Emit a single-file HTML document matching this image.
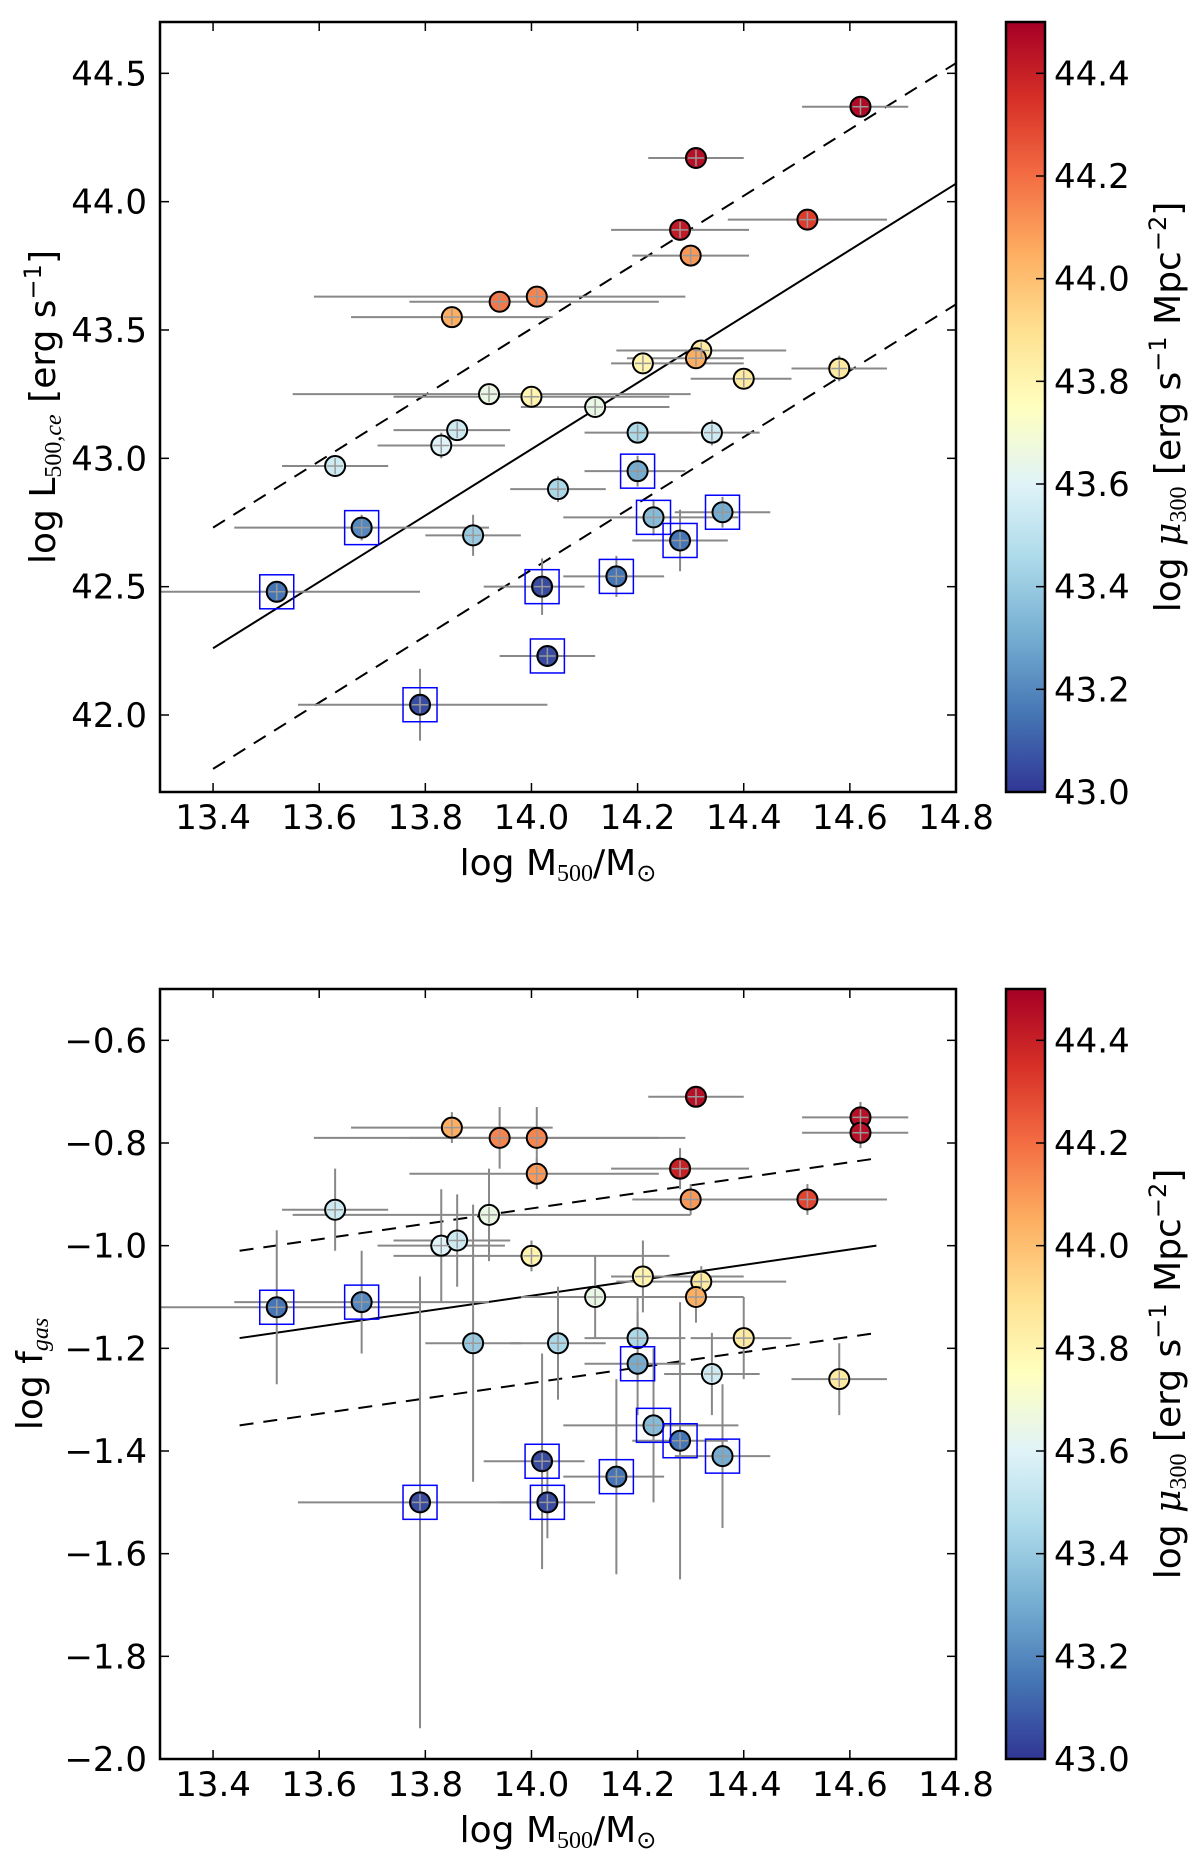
<!DOCTYPE html>
<html><head><meta charset="utf-8">
<style>
html,body{margin:0;padding:0;background:#fff;}
svg{display:block;font-family:"DejaVu Sans","Liberation Sans",sans-serif;}
</style></head>
<body>
<svg id="fig" width="1200" height="1856" viewBox="0 0 1200 1856" xmlns="http://www.w3.org/2000/svg">
<defs>
<linearGradient id="cmap" x1="0" y1="1" x2="0" y2="0">
<stop offset="0" stop-color="#313695"/><stop offset="0.1" stop-color="#4575b4"/><stop offset="0.2" stop-color="#74add1"/><stop offset="0.3" stop-color="#abd9e9"/><stop offset="0.4" stop-color="#e0f3f8"/><stop offset="0.5" stop-color="#ffffbf"/><stop offset="0.6" stop-color="#fee090"/><stop offset="0.7" stop-color="#fdae61"/><stop offset="0.8" stop-color="#f46d43"/><stop offset="0.9" stop-color="#d73027"/><stop offset="1" stop-color="#a50026"/>
</linearGradient>
</defs>
</svg>
<script>
// ---- shared axis data ----
const xTicks = [13.4,13.6,13.8,14.0,14.2,14.4,14.6,14.8];
const cbTicks = [43.0,43.2,43.4,43.6,43.8,44.0,44.2,44.4];
// ---- top panel data ----
const topY = [42.0,42.5,43.0,43.5,44.0,44.5];
const topMass = [14.62,14.31,14.28,14.52,14.30,13.94,14.01,13.85,14.32,14.31,14.21,14.40,14.58,13.92,14.00,14.12,13.86,13.83,14.20,14.34,13.63,14.20,14.05,13.68,13.89,14.23,14.36,14.28,13.52,14.02,14.16,14.03,13.79];
const topLum = [44.37,44.17,43.89,43.93,43.79,43.61,43.63,43.55,43.42,43.39,43.37,43.31,43.35,43.25,43.24,43.20,43.11,43.05,43.10,43.10,42.97,42.95,42.88,42.73,42.70,42.77,42.79,42.68,42.48,42.50,42.54,42.23,42.04];
const topXlo = [14.51,14.22,14.15,14.37,14.19,13.77,13.59,13.66,14.16,14.18,14.15,14.30,14.49,13.55,13.74,13.98,13.74,13.71,14.10,14.20,13.53,14.10,13.96,13.44,13.80,14.06,14.27,14.19,13.30,13.91,14.06,13.94,13.56];
const topXhi = [14.71,14.40,14.41,14.67,14.41,14.24,14.29,14.04,14.48,14.40,14.40,14.49,14.67,14.30,14.26,14.26,13.96,13.95,14.30,14.43,13.73,14.29,14.14,13.92,13.98,14.39,14.45,14.37,13.79,14.10,14.25,14.12,14.03];
const topYerr = [0.02,0.02,0.03,0.03,0.02,0.03,0.03,0.02,0.03,0.03,0.04,0.03,0.05,0.03,0.03,0.03,0.04,0.05,0.04,0.05,0.03,0.06,0.05,0.05,0.08,0.07,0.06,0.12,0.04,0.11,0.08,0.04,0.14];
const topMu = [44.47,44.45,44.42,44.32,44.1,44.18,44.15,44.05,43.85,44.05,43.8,43.85,43.85,43.65,43.8,43.65,43.55,43.6,43.45,43.55,43.55,43.3,43.45,43.2,43.4,43.35,43.3,43.15,43.15,43.05,43.15,43.05,43.05];
const topBoxed = [0,0,0,0,0,0,0,0,0,0,0,0,0,0,0,0,0,0,0,0,0,1,0,1,0,1,1,1,1,1,1,1,1];
const topFitX = [13.4,14.8];
const topFit = [42.26,44.07];
const topUpper = [42.73,44.54];
const topLower = [41.79,43.60];
// ---- bottom panel data ----
const botY = [-2.0,-1.8,-1.6,-1.4,-1.2,-1.0,-0.8,-0.6];
const botMass = [14.31,14.62,14.62,14.28,14.52,14.30,13.85,13.94,14.01,14.01,13.63,13.92,13.83,13.86,14.00,14.21,14.32,14.31,14.12,13.52,13.68,13.89,14.05,14.20,14.40,14.20,14.34,14.58,14.23,14.28,14.36,14.02,14.16,13.79,14.03];
const botFgas = [-0.71,-0.75,-0.78,-0.85,-0.91,-0.91,-0.77,-0.79,-0.79,-0.86,-0.93,-0.94,-1.00,-0.99,-1.02,-1.06,-1.07,-1.10,-1.10,-1.12,-1.11,-1.19,-1.19,-1.18,-1.18,-1.23,-1.25,-1.26,-1.35,-1.38,-1.41,-1.42,-1.45,-1.50,-1.50];
const botXlo = [14.22,14.51,14.51,14.15,14.37,14.19,13.66,13.59,13.77,13.77,13.53,13.55,13.71,13.74,13.74,14.15,14.16,14.18,13.98,13.30,13.44,13.80,13.96,14.10,14.30,14.10,14.25,14.49,14.06,14.19,14.27,13.91,14.06,13.56,13.94];
const botXhi = [14.40,14.71,14.71,14.41,14.67,14.41,14.04,14.29,14.24,14.24,13.73,14.30,13.95,13.96,14.26,14.40,14.48,14.40,14.26,13.79,13.92,13.98,14.14,14.29,14.49,14.29,14.43,14.67,14.39,14.37,14.45,14.10,14.25,14.03,14.12];
const botYerr = [0.02,0.03,0.03,0.04,0.03,0.03,0.03,0.06,0.06,0.03,0.08,0.09,0.11,0.09,0.03,0.07,0.03,0.05,0.08,0.15,0.10,0.27,0.11,0.08,0.08,0.10,0.08,0.07,0.15,0.27,0.14,0.21,0.19,0.44,0.07];
const botMu = [44.45,44.45,44.45,44.4,44.3,44.1,44.05,44.15,44.15,44.1,43.55,43.65,43.6,43.55,43.8,43.8,43.85,44.05,43.65,43.15,43.2,43.4,43.45,43.45,43.85,43.3,43.55,43.85,43.35,43.15,43.3,43.05,43.15,43.05,43.05];
const botBoxed = [0,0,0,0,0,0,0,0,0,0,0,0,0,0,0,0,0,0,0,1,1,0,0,0,0,1,0,0,1,1,1,1,1,1,1];
const botFitX = [13.45,14.65];
const botFit = [-1.18,-1.00];
const botUpper = [-1.01,-0.83];
const botLower = [-1.35,-1.17];

const NS = 'http://www.w3.org/2000/svg';
const svg = document.getElementById('fig');
function mk(tag, attrs, parent){ const e=document.createElementNS(NS,tag); for(const k in attrs) e.setAttribute(k,attrs[k]); (parent||svg).appendChild(e); return e; }
const stops=[[0,[49,54,149]],[0.1,[69,117,180]],[0.2,[116,173,209]],[0.3,[171,217,233]],[0.4,[224,243,248]],[0.5,[255,255,191]],[0.6,[254,224,144]],[0.7,[253,174,97]],[0.8,[244,109,67]],[0.9,[215,48,39]],[1,[165,0,38]]];
function cmap(v){ let t=Math.max(0,Math.min(1,(v-43.0)/1.5)); for(let i=0;i<stops.length-1;i++){ if(t<=stops[i+1][0]){ const f=(t-stops[i][0])/(stops[i+1][0]-stops[i][0]); const a=stops[i][1],b=stops[i+1][1]; return 'rgb('+a.map((c,j)=>Math.round(c+(b[j]-c)*f)).join(',')+')'; } } return 'rgb(165,0,38)'; }

function panel(p){
  const L=160,R=956,T=p.top,B=p.top+770;
  const xs=v=>L+(v-13.3)/(14.8-13.3)*(R-L);
  const ys=v=>B-(v-p.ymin)/(p.ymax-p.ymin)*(B-T);
  const g=mk('g',{});
  
  
  mk('rect',{x:L,y:T,width:R-L,height:B-T,fill:'#fff'},g);
  // fit lines
  const fl=mk('line',{x1:xs(p.fitX[0]),y1:ys(p.fit[0]),x2:xs(p.fitX[1]),y2:ys(p.fit[1]),stroke:'#000','stroke-width':2},g);
   
  const u=mk('line',{x1:xs(p.fitX[0]),y1:ys(p.up[0]),x2:xs(p.fitX[1]),y2:ys(p.up[1]),stroke:'#000','stroke-width':2,'stroke-dasharray':'14,10'},g);
   
  const lo=mk('line',{x1:xs(p.fitX[0]),y1:ys(p.lo[0]),x2:xs(p.fitX[1]),y2:ys(p.lo[1]),stroke:'#000','stroke-width':2,'stroke-dasharray':'14,10'},g);
   
  // error bars
  for(let i=0;i<p.x.length;i++){
    const eb=mk('g',{stroke:'#888','stroke-width':2},g);
     
    mk('line',{x1:xs(Math.max(13.3,p.xlo[i])),y1:ys(p.y[i]),x2:xs(p.xhi[i]),y2:ys(p.y[i])},eb);
    mk('line',{x1:xs(p.x[i]),y1:ys(p.y[i]-p.yerr[i]),x2:xs(p.x[i]),y2:ys(p.y[i]+p.yerr[i])},eb);
  }
  // markers
  for(let i=0;i<p.x.length;i++){
    const c=mk('circle',{cx:xs(p.x[i]),cy:ys(p.y[i]),r:10,fill:cmap(p.mu[i]),stroke:'#000','stroke-width':2},g);
     
  }
  // cross-hair of errorbars over markers
  for(let i=0;i<p.x.length;i++){
    const eb=mk('g',{stroke:'#999','stroke-width':1.5},g);
     
    mk('line',{x1:xs(p.x[i])-8,y1:ys(p.y[i]),x2:xs(p.x[i])+8,y2:ys(p.y[i])},eb);
    mk('line',{x1:xs(p.x[i]),y1:ys(p.y[i])-8,x2:xs(p.x[i]),y2:ys(p.y[i])+8},eb);
  }
  for(let i=0;i<p.x.length;i++){ if(!p.box[i]) continue;
    const b=mk('rect',{x:xs(p.x[i])-17,y:ys(p.y[i])-17,width:34,height:34,fill:'none',stroke:'#0000ff','stroke-width':1.5},g);
     
  }
  // frame
  const fr=mk('rect',{x:L,y:T,width:R-L,height:B-T,fill:'none',stroke:'#000','stroke-width':2.5},g);
   
  // x ticks
  xTicks.forEach(t=>{
    mk('line',{x1:xs(t),y1:B,x2:xs(t),y2:B-9,stroke:'#000','stroke-width':1.5},g);
    mk('line',{x1:xs(t),y1:T,x2:xs(t),y2:T+9,stroke:'#000','stroke-width':1.5},g);
    const tx=mk('text',{x:xs(t),y:B+37,'font-size':34,'text-anchor':'middle'},g);
    tx.textContent=t.toFixed(1);
     
  });
  p.yt.forEach(t=>{
    mk('line',{x1:L,y1:ys(t),x2:L+9,y2:ys(t),stroke:'#000','stroke-width':1.5},g);
    mk('line',{x1:R,y1:ys(t),x2:R-9,y2:ys(t),stroke:'#000','stroke-width':1.5},g);
    const tx=mk('text',{x:L-13,y:ys(t)+12,'font-size':34,'text-anchor':'end'},g);
    tx.textContent=(t<0?'\u2212'+Math.abs(t).toFixed(1):t.toFixed(1));
     
  });
  // x label
  const xl=mk('text',{x:558,y:B+83,'font-size':36,'text-anchor':'middle'},g);
  xl.innerHTML='log M<tspan font-size="24" dy="6" font-family="Liberation Serif">500</tspan><tspan dy="-6">/M</tspan><tspan font-size="24" dy="6">\u2299</tspan>';
   
  // y label
  const yl=mk('text',{x:0,y:0,'font-size':36,'text-anchor':'middle',transform:'translate('+p.ylx+','+((T+B)/2)+') rotate(-90)'},g);
  yl.innerHTML=p.ylabel;
   
  // colorbar
  const cx0=1006,cx1=1045;
  const cb=mk('rect',{x:cx0,y:T,width:cx1-cx0,height:B-T,fill:'url(#cmap)',stroke:'#000','stroke-width':2.5},g);
   
  const cs=v=>B-(v-43.0)/1.5*(B-T);
  cbTicks.forEach(t=>{
    mk('line',{x1:cx1,y1:cs(t),x2:cx1-9,y2:cs(t),stroke:'#000','stroke-width':1.5},g);
    const tx=mk('text',{x:1054,y:cs(t)+12,'font-size':34},g);
    tx.textContent=t.toFixed(1);
     
  });
  const cl=mk('text',{x:0,y:0,'font-size':36,'text-anchor':'middle',transform:'translate(1180,'+((T+B)/2)+') rotate(-90)'},g);
  cl.innerHTML='log <tspan font-style="italic" font-family="DejaVu Serif">\u03bc</tspan><tspan font-size="24" dy="6" font-family="Liberation Serif">300</tspan><tspan dy="-6"> [erg s</tspan><tspan font-size="24" dy="-14">\u22121</tspan><tspan dy="14"> Mpc</tspan><tspan font-size="24" dy="-14">\u22122</tspan><tspan dy="14">]</tspan>';
   
}

panel({name:'luminosity-panel',top:22,ymin:41.7,ymax:44.7,yt:topY,x:topMass,y:topLum,xlo:topXlo,xhi:topXhi,yerr:topYerr,mu:topMu,box:topBoxed,fitX:topFitX,fit:topFit,up:topUpper,lo:topLower,ylx:55,
  ylabel:'log L<tspan font-size="24" dy="6" font-family="Liberation Serif">500,<tspan font-style="italic">ce</tspan></tspan><tspan dy="-6"> [erg s</tspan><tspan font-size="24" dy="-14">\u22121</tspan><tspan dy="14">]</tspan>'});
panel({name:'gas-fraction-panel',top:989,ymin:-2.0,ymax:-0.5,yt:botY,x:botMass,y:botFgas,xlo:botXlo,xhi:botXhi,yerr:botYerr,mu:botMu,box:botBoxed,fitX:botFitX,fit:botFit,up:botUpper,lo:botLower,ylx:42,
  ylabel:'log f<tspan font-size="24" dy="6" font-style="italic" font-family="Liberation Serif">gas</tspan>'});
</script>
</body></html>
